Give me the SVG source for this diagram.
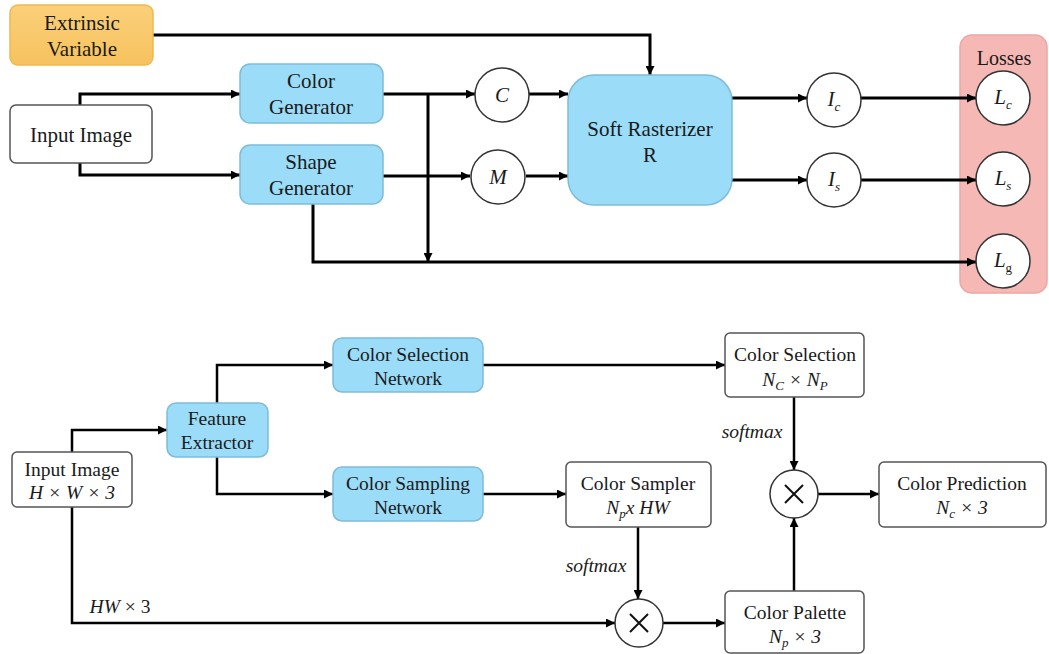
<svg xmlns="http://www.w3.org/2000/svg" width="1049" height="654" viewBox="0 0 1049 654">
  <defs>
    <marker id="arr" viewBox="0 0 10 10" refX="10" refY="5" markerWidth="10" markerHeight="9" markerUnits="userSpaceOnUse" orient="auto">
      <path d="M0,0 L10,5 L0,10 z" fill="#000"/>
    </marker>
    <linearGradient id="orangeFill" x1="0" y1="0" x2="0" y2="1">
      <stop offset="0" stop-color="#fbd07a"/>
      <stop offset="1" stop-color="#f6c25e"/>
    </linearGradient>
  </defs>

  <!-- all labels share one serif face -->
  <g font-family="'Liberation Serif'" fill="#1a1a1a" text-anchor="middle">

  <!-- losses panel -->
  <g id="losses">
    <rect x="960" y="35" width="87" height="258" rx="12" fill="#f5b8b4" stroke="#eca7a3" stroke-width="1.5"/>
    <text x="1004" y="65" font-size="20">Losses</text>
  </g>

  <!-- top pipeline connectors -->
  <g fill="none" stroke="#000" stroke-width="3">
    <path d="M153,35 H650 V75" marker-end="url(#arr)"/>
    <path d="M80,105 V94 H240" marker-end="url(#arr)"/>
    <path d="M80,163 V175 H240" marker-end="url(#arr)"/>
    <path d="M383,94 H475" marker-end="url(#arr)"/>
    <path d="M428,94 V262" marker-end="url(#arr)"/>
    <path d="M383,176 H470" marker-end="url(#arr)"/>
    <path d="M313,204 V262 H976" marker-end="url(#arr)"/>
    <path d="M529,94 H568" marker-end="url(#arr)"/>
    <path d="M526,176 H568" marker-end="url(#arr)"/>
    <path d="M732,98 H807" marker-end="url(#arr)"/>
    <path d="M732,180 H807" marker-end="url(#arr)"/>
    <path d="M861,98 H976" marker-end="url(#arr)"/>
    <path d="M861,180 H976" marker-end="url(#arr)"/>
  </g>

  <!-- top pipeline nodes -->
  <g font-size="21">
    <g id="extrinsic">
      <rect x="10" y="5" width="143" height="60" rx="8" fill="url(#orangeFill)" stroke="#f0b850" stroke-width="1.5"/>
      <text x="82" y="30">Extrinsic</text>
      <text x="82" y="56">Variable</text>
    </g>
    <g id="input-top">
      <rect x="10" y="105" width="142" height="58" rx="6" fill="#fff" stroke="#555" stroke-width="1.5"/>
      <text x="81" y="142">Input Image</text>
    </g>
    <g id="color-gen">
      <rect x="240" y="64" width="143" height="59" rx="10" fill="#9bdcf8" stroke="#7fbcd9" stroke-width="1.5"/>
      <text x="311" y="88">Color</text>
      <text x="311" y="114">Generator</text>
    </g>
    <g id="shape-gen">
      <rect x="240" y="145" width="143" height="59" rx="10" fill="#9bdcf8" stroke="#7fbcd9" stroke-width="1.5"/>
      <text x="311" y="169">Shape</text>
      <text x="311" y="195">Generator</text>
    </g>
    <g id="rasterizer">
      <rect x="568" y="75" width="164" height="130" rx="26" fill="#9bdcf8" stroke="#7fbcd9" stroke-width="1.5"/>
      <text x="650" y="136">Soft Rasterizer</text>
      <text x="650" y="162">R</text>
    </g>
    <g font-style="italic">
      <g id="node-c">
        <circle cx="502" cy="95" r="27" fill="#fff" stroke="#333" stroke-width="1.5"/>
        <text x="502" y="102">C</text>
      </g>
      <g id="node-m">
        <circle cx="498" cy="177" r="27" fill="#fff" stroke="#333" stroke-width="1.5"/>
        <text x="498" y="184">M</text>
      </g>
      <g id="node-ic">
        <circle cx="834" cy="100" r="27" fill="#fff" stroke="#333" stroke-width="1.5"/>
        <text x="834" y="106">I<tspan font-size="13" dy="5">c</tspan></text>
      </g>
      <g id="node-is">
        <circle cx="834" cy="180" r="27" fill="#fff" stroke="#333" stroke-width="1.5"/>
        <text x="834" y="186">I<tspan font-size="13" dy="5">s</tspan></text>
      </g>
      <g id="node-lc">
        <circle cx="1003" cy="98" r="27" fill="#fff" stroke="#333" stroke-width="1.5"/>
        <text x="1003" y="104">L<tspan font-size="13" dy="5">c</tspan></text>
      </g>
      <g id="node-ls">
        <circle cx="1003" cy="179" r="27" fill="#fff" stroke="#333" stroke-width="1.5"/>
        <text x="1003" y="185">L<tspan font-size="13" dy="5">s</tspan></text>
      </g>
      <g id="node-lg">
        <circle cx="1003" cy="261" r="27" fill="#fff" stroke="#333" stroke-width="1.5"/>
        <text x="1003" y="267">L<tspan font-size="13" dy="5" font-style="normal">g</tspan></text>
      </g>
    </g>
  </g>

  <!-- bottom pipeline connectors -->
  <g fill="none" stroke="#000" stroke-width="2.5">
    <path d="M72,452 V430 H167" marker-end="url(#arr)"/>
    <path d="M217,403 V365 H333" marker-end="url(#arr)"/>
    <path d="M217,457 V494 H333" marker-end="url(#arr)"/>
    <path d="M483,365 H725" marker-end="url(#arr)"/>
    <path d="M483,494 H566" marker-end="url(#arr)"/>
    <path d="M794,397 V470" marker-end="url(#arr)"/>
    <path d="M818,494 H879" marker-end="url(#arr)"/>
    <path d="M638,527 V599" marker-end="url(#arr)"/>
    <path d="M72,507 V623 H615" marker-end="url(#arr)"/>
    <path d="M663,623 H725" marker-end="url(#arr)"/>
    <path d="M794,591 V518" marker-end="url(#arr)"/>
  </g>

  <!-- bottom pipeline nodes and edge labels -->
  <g font-size="19.5">
    <text x="752" y="438" font-style="italic">softmax</text>
    <text x="596" y="572" font-style="italic">softmax</text>
    <text x="120" y="613"><tspan font-style="italic">HW</tspan> × 3</text>

    <g id="input-bottom">
      <rect x="12" y="452" width="120" height="55" rx="5" fill="#fff" stroke="#555" stroke-width="1.5"/>
      <text x="72" y="476">Input Image</text>
      <text x="72" y="499" font-style="italic">H × W × 3</text>
    </g>
    <g id="feature-extractor">
      <rect x="167" y="403" width="101" height="54" rx="9" fill="#9bdcf8" stroke="#7fbcd9" stroke-width="1.5"/>
      <text x="217" y="425">Feature</text>
      <text x="217" y="449">Extractor</text>
    </g>
    <g id="color-selection-net">
      <rect x="333" y="338" width="150" height="54" rx="9" fill="#9bdcf8" stroke="#7fbcd9" stroke-width="1.5"/>
      <text x="408" y="361">Color Selection</text>
      <text x="408" y="385">Network</text>
    </g>
    <g id="color-sampling-net">
      <rect x="333" y="467" width="150" height="54" rx="9" fill="#9bdcf8" stroke="#7fbcd9" stroke-width="1.5"/>
      <text x="408" y="490">Color Sampling</text>
      <text x="408" y="514">Network</text>
    </g>
    <g id="color-selection">
      <rect x="725" y="333" width="139" height="64" rx="5" fill="#fff" stroke="#555" stroke-width="1.5"/>
      <text x="795" y="361">Color Selection</text>
      <text x="795" y="386" font-style="italic">N<tspan font-size="13" dy="4">C</tspan><tspan dy="-4"> × N</tspan><tspan font-size="13" dy="4">P</tspan></text>
    </g>
    <g id="color-sampler">
      <rect x="566" y="462" width="145" height="65" rx="5" fill="#fff" stroke="#555" stroke-width="1.5"/>
      <text x="638" y="490">Color Sampler</text>
      <text x="638" y="514" font-style="italic">N<tspan font-size="13" dy="4">p</tspan><tspan dy="-4">x HW</tspan></text>
    </g>
    <g id="mul-top">
      <circle cx="794" cy="494" r="24" fill="#fff" stroke="#333" stroke-width="1.5"/>
      <path d="M785,485 L803,503 M803,485 L785,503" stroke="#111" stroke-width="2"/>
    </g>
    <g id="color-prediction">
      <rect x="879" y="462" width="167" height="65" rx="5" fill="#fff" stroke="#555" stroke-width="1.5"/>
      <text x="962" y="490">Color Prediction</text>
      <text x="962" y="514" font-style="italic">N<tspan font-size="13" dy="4">c</tspan><tspan dy="-4"> × 3</tspan></text>
    </g>
    <g id="mul-bottom">
      <circle cx="639" cy="623" r="24" fill="#fff" stroke="#333" stroke-width="1.5"/>
      <path d="M630,614 L648,632 M648,614 L630,632" stroke="#111" stroke-width="2"/>
    </g>
    <g id="color-palette">
      <rect x="725" y="591" width="139" height="62" rx="5" fill="#fff" stroke="#555" stroke-width="1.5"/>
      <text x="795" y="619">Color Palette</text>
      <text x="795" y="643" font-style="italic">N<tspan font-size="13" dy="4">p</tspan><tspan dy="-4"> × 3</tspan></text>
    </g>
  </g>
  </g>
</svg>
